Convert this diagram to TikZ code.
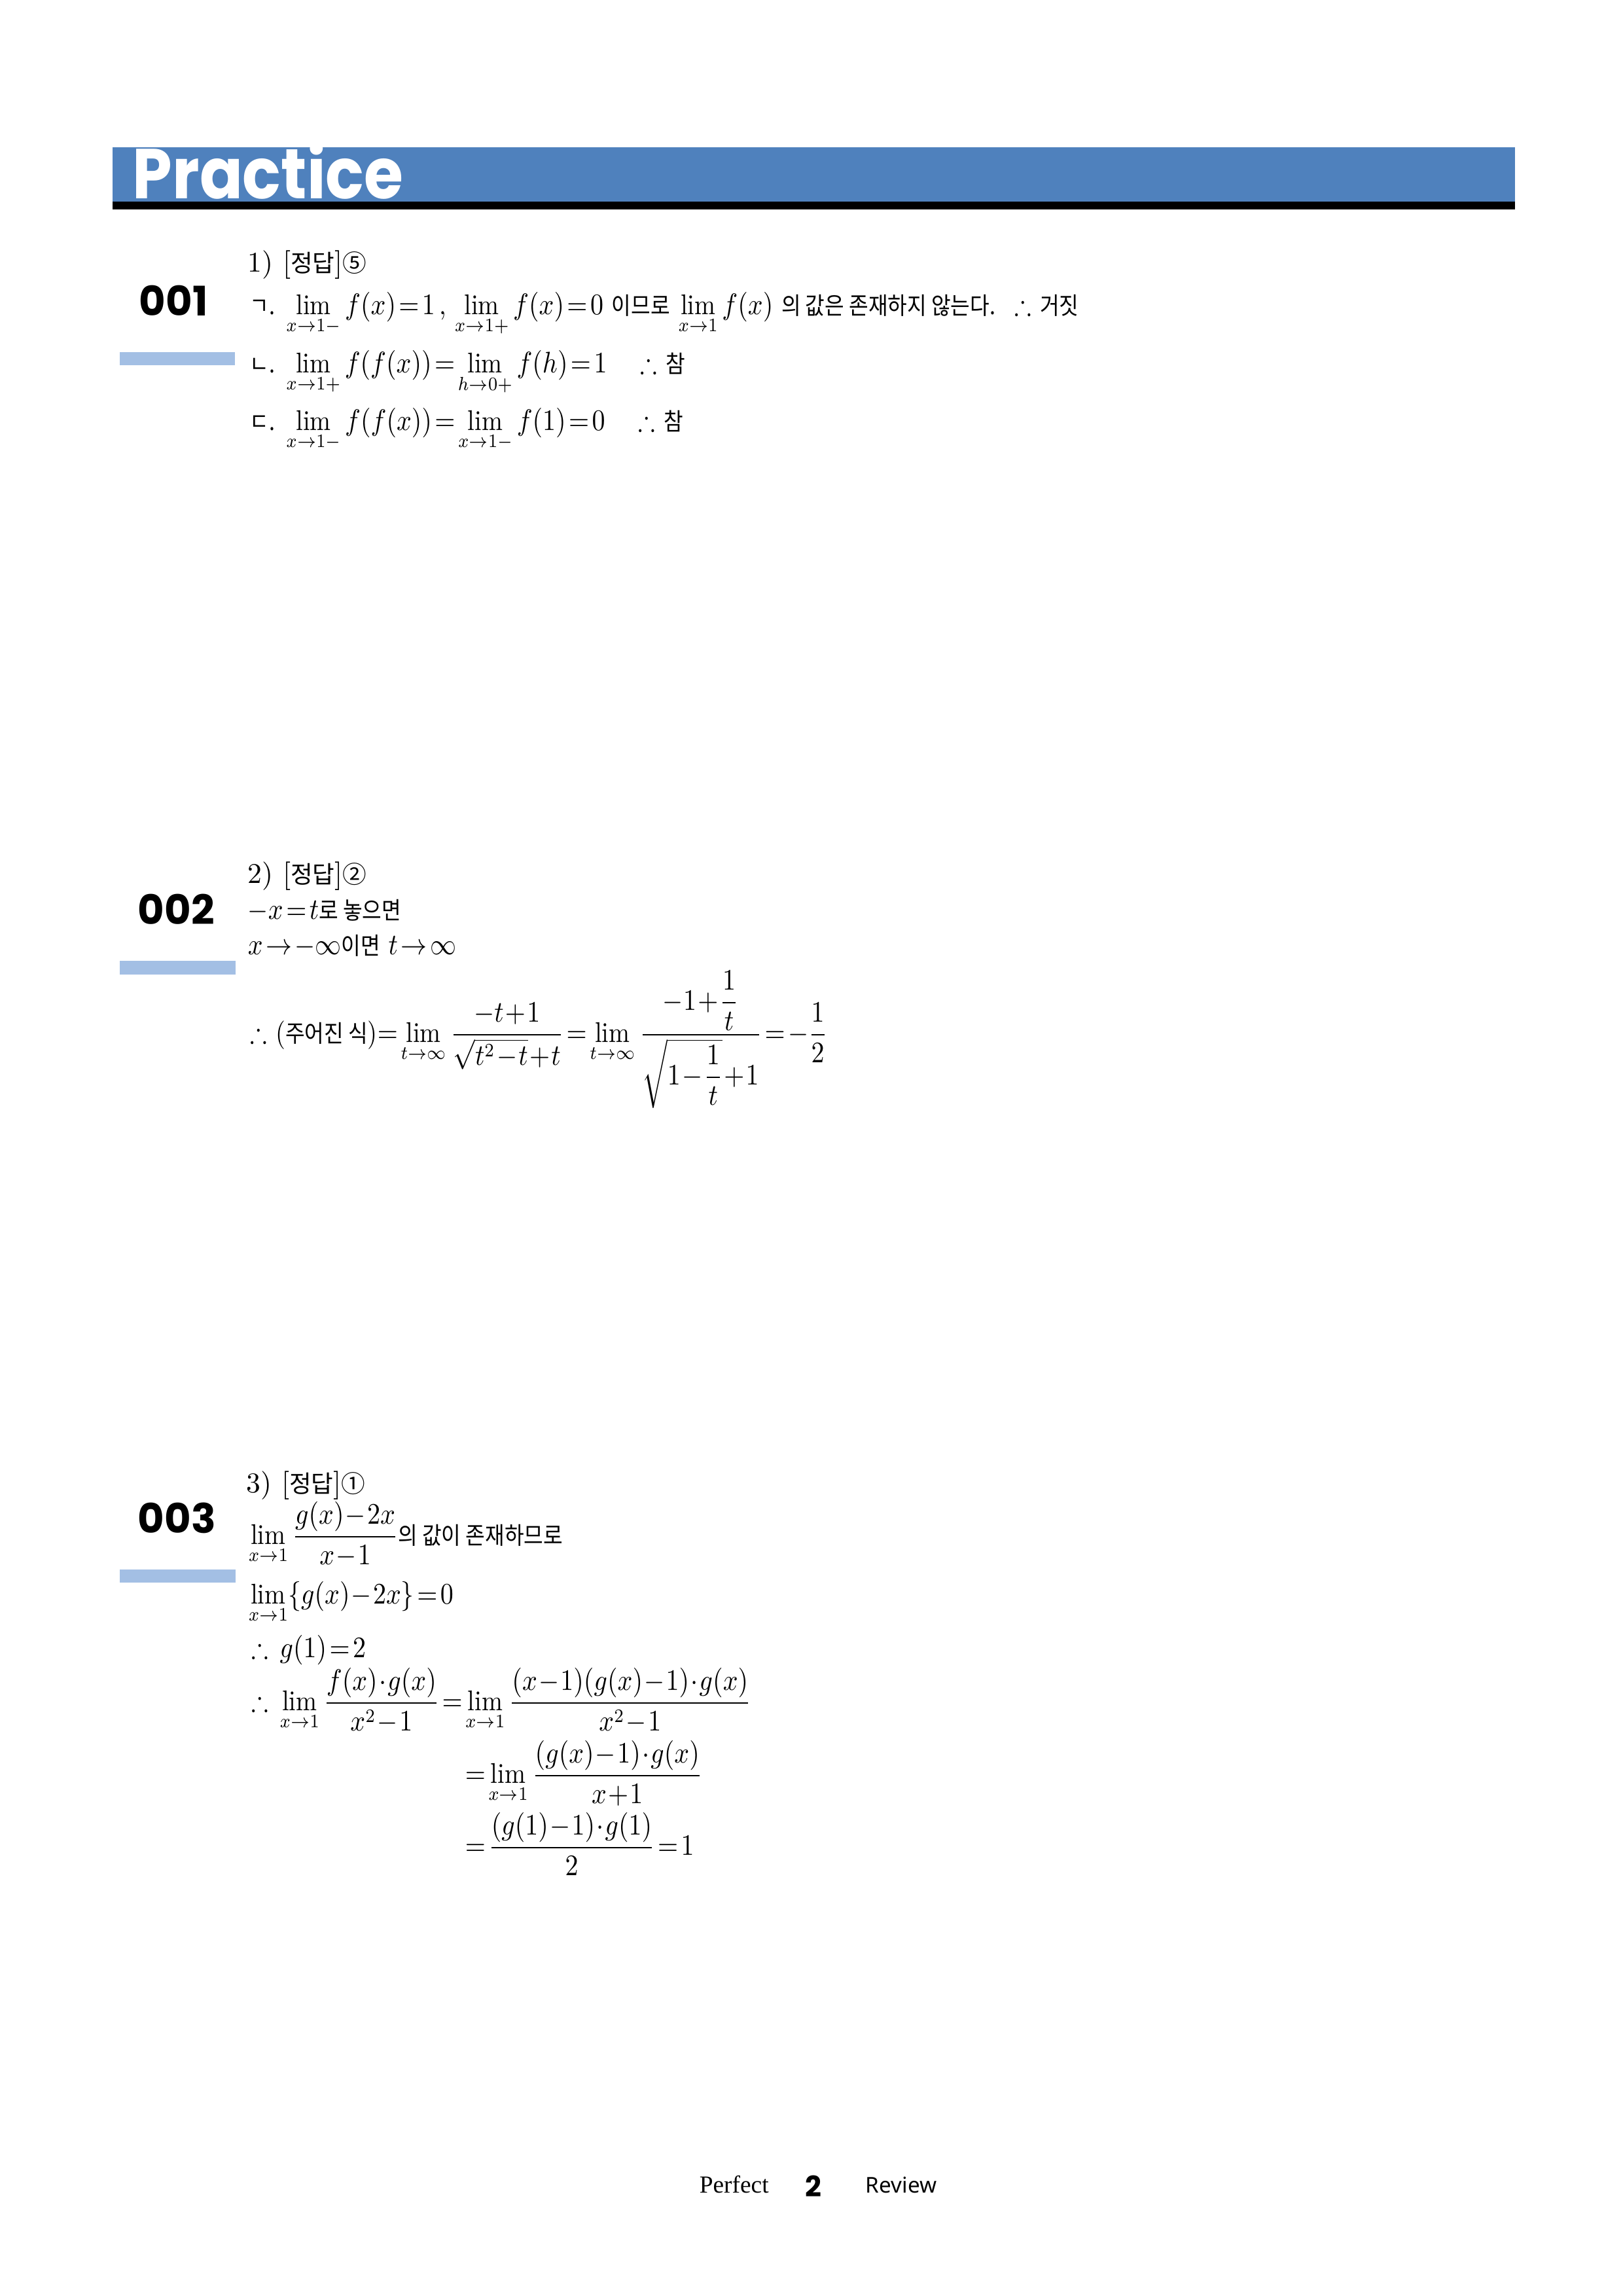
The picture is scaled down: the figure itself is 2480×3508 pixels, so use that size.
\documentclass[tikz,border=0pt]{standalone}
\usepackage{amsmath,amssymb}
\usepackage{fontspec}
\newfontfamily\krfont[Scale=0.84]{Noto Sans CJK KR}
\newfontfamily\titlefont{Poppins}
\newfontfamily\serfont{Liberation Serif}
\newfontfamily\footsans{Noto Sans}
\newcommand{\hg}[1]{{\krfont #1}}
\newcommand{\narrow}[1]{\scalebox{0.88}[1]{#1}}
\definecolor{bandblue}{HTML}{4F81BD}
\definecolor{barblue}{HTML}{A3BFE4}
\medmuskip=1mu plus 1mu
\thickmuskip=2mu plus 2mu
\begin{document}
\begin{tikzpicture}[x=0.0846667mm,y=-0.0846667mm,
    txt/.style={anchor=base west,inner sep=0pt,font=\fontsize{10.5}{13}\selectfont},
    secnum/.style={anchor=base west,inner sep=0pt,font=\titlefont\bfseries\fontsize{15}{18}\selectfont},
    foot/.style={anchor=base west,inner sep=0pt}]
    \useasboundingbox (0,0) rectangle (2480,3508);

    % Header
    \fill[bandblue] (172,225) rectangle (2315,308);
    \fill[black] (172,308) rectangle (2315,320);
    \node[anchor=base west,inner sep=0pt,text=white,font=\titlefont\bfseries\fontsize{26}{30}\selectfont] (title) at (202,303) {\scalebox{0.9}[1]{Practice}};

    % 001
    \node[secnum] (n1) at (212,482) {001};
    \fill[barblue] (183,538) rectangle (359,558);
    \node[txt] (a0) at (378,415) {1) [\hg{정답}]\hg{⑤}};
    \node[txt] (a1) at (381,480) {\narrow{\hg{ㄱ.} $\lim\limits_{x\to1-}f(x)=1$\,, $\lim\limits_{x\to1+}f(x)=0$ \hg{이므로} $\lim\limits_{x\to1}f(x)$ \hg{의 값은 존재하지 않는다.} \ $\therefore$ \hg{거짓}}};
    \node[txt] (a2) at (381,569) {\narrow{\hg{ㄴ.} $\lim\limits_{x\to1+}f(f(x))=\lim\limits_{h\to0+}f(h)=1$ \quad $\therefore$ \hg{참}}};
    \node[txt] (a3) at (381,657) {\narrow{\hg{ㄷ.} $\lim\limits_{x\to1-}f(f(x))=\lim\limits_{x\to1-}f(1)=0$ \quad $\therefore$ \hg{참}}};

    % 002
    \node[secnum] (n2) at (210,1412) {002};
    \fill[barblue] (183,1468) rectangle (360,1489);
    \node[txt] (b0) at (378,1349) {2) [\hg{정답}]\hg{②}};
    \node[txt] (b1) at (378,1404) {\narrow{$-x=t$\hg{로 놓으면}}};
    \node[txt] (b2) at (378,1458) {\narrow{$x\to-\infty$\hg{이면} $t\to\infty$}};
    \node[txt] (b3) at (382,1592) {\narrow{$\therefore$ (\hg{주어진 식})$=\lim\limits_{t\to\infty}\dfrac{-t+1}{\sqrt{t^2-t}+t}=\lim\limits_{t\to\infty}\dfrac{-1+\dfrac1t}{\sqrt{1-\dfrac1t}+1}=-\dfrac12$}};

    % 003
    \node[secnum] (n3) at (210,2342) {003};
    \fill[barblue] (183,2398) rectangle (360,2418);
    \node[txt] (c0) at (376,2280) {3) [\hg{정답}]\hg{①}};
    \node[txt] (c1) at (379,2359) {\narrow{$\lim\limits_{x\to1}\dfrac{g(x)-2x}{x-1}$\hg{의 값이 존재하므로}}};
    \node[txt] (c2) at (379,2450) {\narrow{$\lim\limits_{x\to1}\{g(x)-2x\}=0$}};
    \node[txt] (c3) at (384,2532) {\narrow{$\therefore\ g(1)=2$}};
    \node[txt] (c4) at (384,2613) {\narrow{$\therefore\ \lim\limits_{x\to1}\dfrac{f(x)\cdot g(x)}{x^2-1}=\lim\limits_{x\to1}\dfrac{(x-1)(g(x)-1)\cdot g(x)}{x^2-1}$}};
    \node[txt] (c5) at (710,2724) {\narrow{$=\lim\limits_{x\to1}\dfrac{(g(x)-1)\cdot g(x)}{x+1}$}};
    \node[txt] (c6) at (710,2834) {\narrow{$=\dfrac{(g(1)-1)\cdot g(1)}{2}=1$}};

    % Footer
    \node[foot,font=\serfont\fontsize{9}{11}\selectfont] (pf) at (1068,3350) {Perfect};
    \node[foot,font=\titlefont\bfseries\fontsize{10.5}{12}\selectfont] (pg) at (1230,3356) {2};
    \node[foot,font=\footsans\fontsize{8}{10}\selectfont] (rv) at (1322,3350) {Review};
\end{tikzpicture}
\end{document}
